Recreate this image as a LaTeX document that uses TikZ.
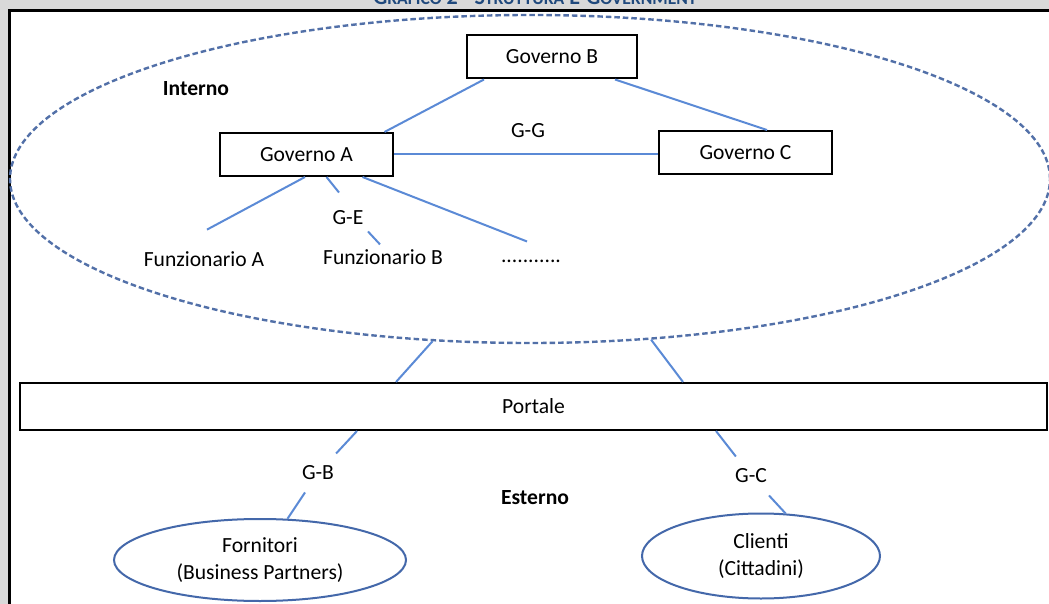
\documentclass[tikz,border=0pt]{standalone}
\usepackage{fontspec}
\setmainfont{Carlito}
\usetikzlibrary{positioning, shapes.geometric}

\definecolor{pagegray}{RGB}{217,217,217}
\definecolor{titleblue}{RGB}{31,73,125}
\definecolor{linkblue}{RGB}{91,138,214}
\definecolor{rimblue}{RGB}{68,104,170}
\definecolor{dashblue}{RGB}{82,112,168}

\newcommand{\lowcaps}[1]{{\fontsize{8.8}{10}\selectfont #1}}

\begin{document}
\begin{tikzpicture}[x=0.5pt, y=-0.5pt, font=\fontsize{10.8}{13.5}\selectfont,
    govbox/.style={draw, line width=1pt, minimum width=86.5pt, minimum height=21.5pt},
    link/.style={draw=linkblue, line width=1pt},
    party/.style={ellipse, draw=rimblue, line width=1pt, inner sep=0pt, align=center},
    gap/.style={inner sep=6pt}]
    \path[use as bounding box] (0,0) rectangle (1049,604);
    \clip (0,0) rectangle (1049,604);

    % page and frame
    \fill[pagegray] (0,0) rectangle (1049,604);
    \fill[white] (9,11) rectangle (1060,615);
    \draw[line width=1.5pt] (9,615) -- (9,11) -- (1060,11);
    \node[anchor=base, text=titleblue, font=\bfseries\fontsize{11}{13}\selectfont] (title) at (535,5)
        {G\lowcaps{RAFICO} 2 - S\lowcaps{TRUTTURA} E-G\lowcaps{OVERNMENT}};

    % interno
    \node[ellipse, draw=dashblue, dash pattern=on 2.75pt off 1.5pt, line width=1.2pt,
          minimum width=520pt, minimum height=164pt] (interno) at (530,179) {};
    \node[font=\bfseries\fontsize{10.8}{13.5}\selectfont] (lbint) at (196,89) {Interno};

    \node[govbox, minimum width=85pt] (gB) at (552,57) {Governo B};
    \node[govbox] (gA) at (306.5,154.5) {Governo A};
    \node[govbox] (gC) at (745.5,152.5) {Governo C};
    \node (gg) at (528,131) {G-G};

    \node (fA) at (204,259) {Funzionario A};
    \node (fB) at (383,257) {Funzionario B};
    \node[gap] (ge) at (348,218) {G-E};
    \node[anchor=base] (dots) at (531,263) {...........};

    \draw[link] ([xshift=39pt]gA.north) -- ([xshift=-34pt]gB.south);
    \draw[link] ([xshift=31.5pt]gB.south) -- ([xshift=10.75pt]gC.north);
    \draw[link] (gA.east) -- (gA.east -| gC.west);
    \draw[link] ([xshift=-0.75pt]gA.south) -- ([xshift=1.5pt,yshift=7.4pt]fA.north);
    \draw[link] ([xshift=10pt]gA.south) -- ([xshift=-4.5pt,yshift=3pt]ge.north);
    \draw[link] ([xshift=10pt,yshift=3pt]ge.south) -- ([xshift=-1.5pt,yshift=-1pt]fB.north);
    \draw[link] ([xshift=28pt]gA.south) -- ([xshift=-2pt,yshift=6pt]dots.north);

    % portale
    \node[govbox, minimum width=513.5pt, minimum height=23.5pt] (portale) at (533.5,406.5) {Portale};
    \draw[link] (interno.-121) -- ([xshift=-68.75pt]portale.north);
    \draw[link] (interno.-53) -- ([xshift=74.75pt]portale.north);

    % esterno
    \node[font=\bfseries\fontsize{10.8}{13.5}\selectfont] (lbest) at (535,498) {Esterno};
    \node[gap] (gb) at (318,473) {G-B};
    \node[gap] (gc) at (751,476) {G-C};
    \node[party, minimum width=146pt, minimum height=41pt] (forn) at (260,560)
        {Fornitori\\(Business Partners)};
    \node[party, minimum width=119pt, minimum height=42.5pt] (cli) at (761,556)
        {Clienti\\(Cittadini)};

    \draw[link] ([xshift=-88.25pt]portale.south) -- (gb);
    \draw[link] (gb) -- (forn);
    \draw[link] ([xshift=91.25pt]portale.south) -- (gc);
    \draw[link] (gc) -- (cli.60);
\end{tikzpicture}
\end{document}
